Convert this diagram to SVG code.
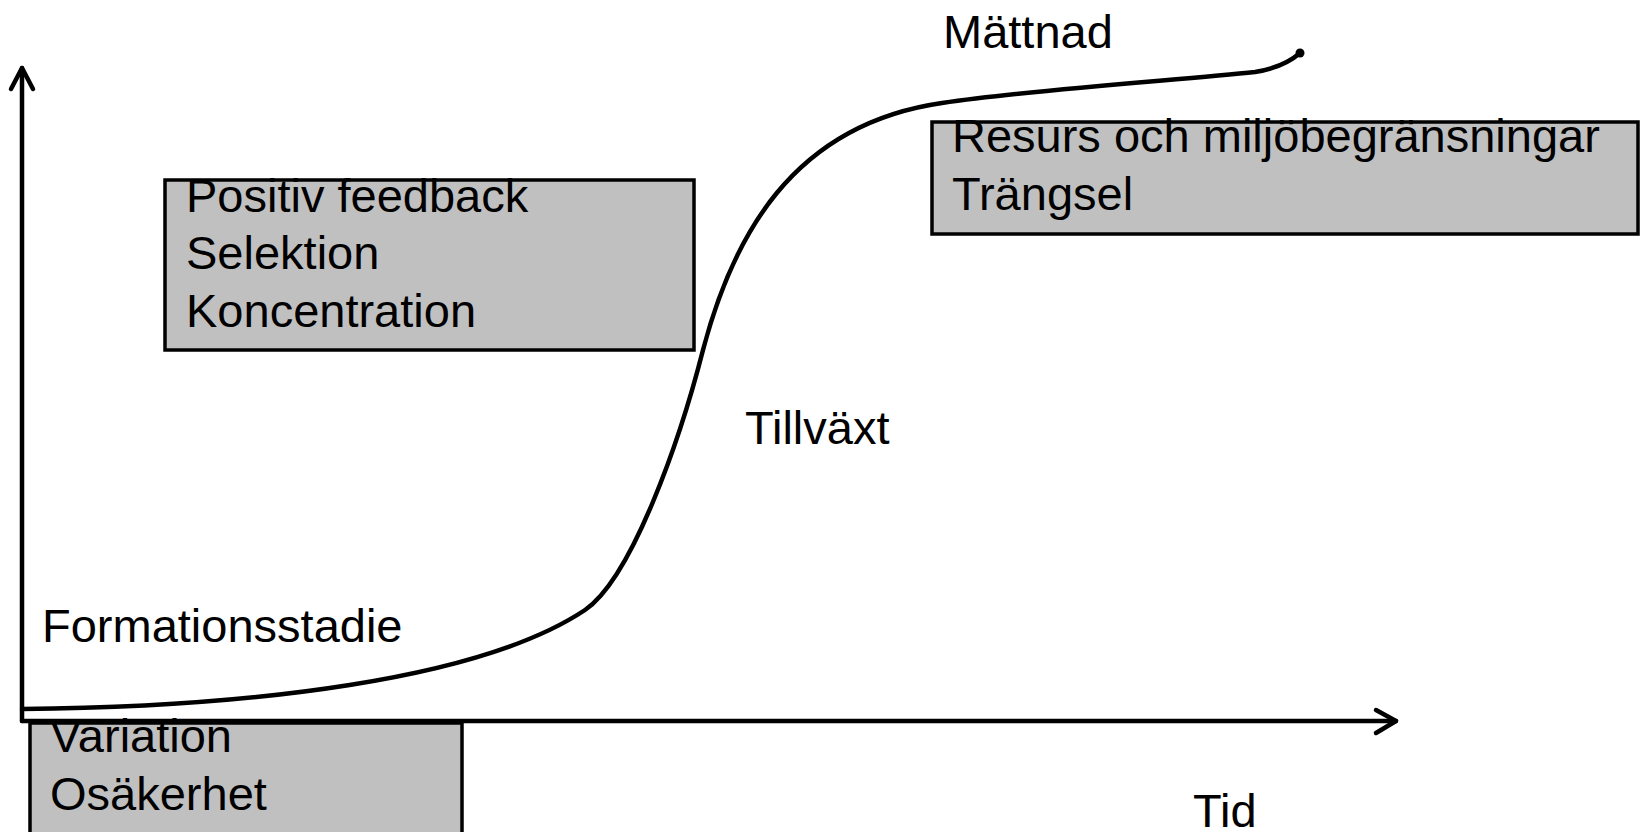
<svg xmlns="http://www.w3.org/2000/svg" width="1641" height="832" viewBox="0 0 1641 832">
<style>
  text { font-family: "Liberation Sans", Arial, sans-serif; font-size: 47px; fill: #000; }
  .box { fill: #C0C0C0; stroke: #000; stroke-width: 3.5; }
  .axis { fill: none; stroke: #000; stroke-width: 4.5; stroke-linecap: round; stroke-linejoin: round; }
  .curve { fill: none; stroke: #000; stroke-width: 4.5; stroke-linecap: round; }
</style>
<rect width="1641" height="832" fill="#fff"/>
<g id="box-variation">
  <rect class="box" x="30" y="723" width="432" height="120"/>
  <text x="50" y="752">Variation</text>
  <text x="50" y="810">Osäkerhet</text>
</g>
<g id="connectors">
  <polyline class="axis" points="22,721 22,68"/>
  <polyline class="axis" points="11,89 22,68 33,89"/>
  <polyline class="axis" points="22,721 1396,721"/>
  <polyline class="axis" points="1376,710 1396,721 1376,733"/>
  <path class="curve" d="M22,709 C250,707 480,680 585,610 C632,578 680,440 703,350 C732,240 790,125 942,103 C1042,88.5 1180,80 1255,72 C1280,68 1292,60 1300,53"/>
  <circle cx="1300" cy="53" r="4.5" fill="#000"/>
</g>
<g id="box-positive">
  <rect class="box" x="165" y="180" width="529" height="170"/>
  <text x="186" y="212">Positiv feedback</text>
  <text x="186" y="269">Selektion</text>
  <text x="186" y="327">Koncentration</text>
</g>
<g id="box-resurs">
  <rect class="box" x="932" y="122" width="706" height="112"/>
  <text x="952" y="152">Resurs och miljöbegränsningar</text>
  <text x="952" y="210">Trängsel</text>
</g>
<g id="label-mattnad"><text x="943" y="48">Mättnad</text></g>
<g id="label-tillvaxt"><text x="745" y="444">Tillväxt</text></g>
<g id="label-formation"><text x="42" y="642">Formationsstadie</text></g>
<g id="label-tid"><text x="1193" y="827">Tid</text></g>
</svg>
